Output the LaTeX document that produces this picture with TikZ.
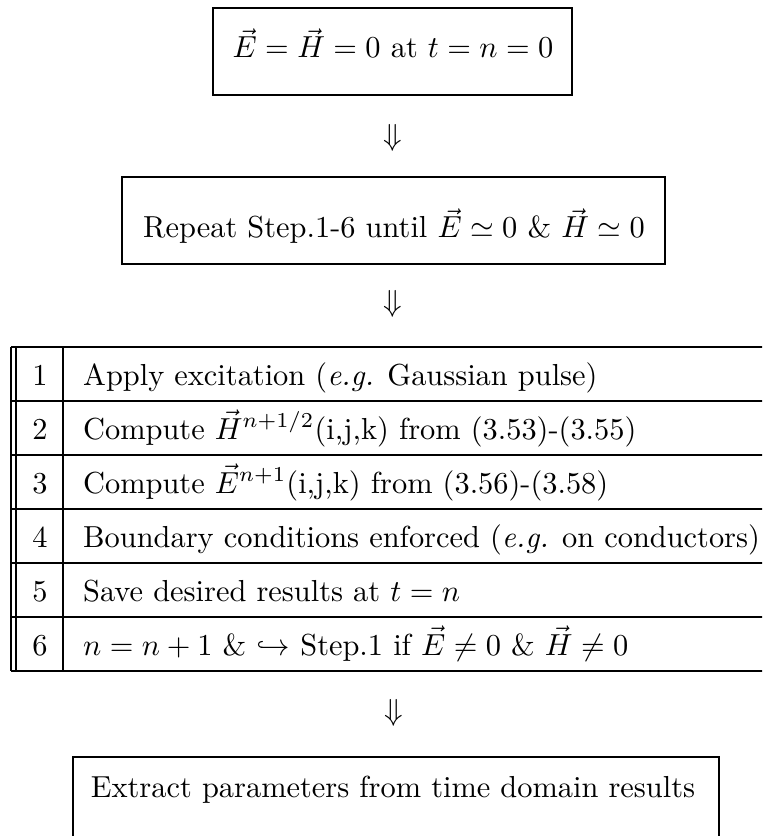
\documentclass[tikz,border=0pt]{standalone}
\usepackage{tikz}
\usetikzlibrary{positioning}

\begin{document}
\begin{tikzpicture}[x=0.329pt,y=-0.329pt,line width=0.8pt]
  \useasboundingbox (0,0) rectangle (762,836);
  \clip (0,0) rectangle (762,836);
  \tikzset{boxtext/.style={anchor=base,inner sep=0pt},
           steptext/.style={anchor=base west,inner sep=0pt},
           stepnum/.style={anchor=base,inner sep=0pt}}

  \draw (213,8) rectangle (572,95);
  \node[boxtext] (init) at (393,58) {$\vec{E}=\vec{H}=0$ at $t=n=0$};
  \node (down1) at (393,138) {$\Downarrow$};

  \draw (122,177) rectangle (665,264);
  \node[boxtext] (repeat) at (394,238) {Repeat Step.1-6 until $\vec{E}\simeq 0$ \& $\vec{H}\simeq 0$};
  \node (down2) at (393,304) {$\Downarrow$};

  \foreach \i in {0,...,6}{\draw (11,347+54*\i) -- (780,347+54*\i);}
  \draw (11,347) -- (11,671);
  \draw (16,347) -- (16,671);
  \draw (63,347) -- (63,671);
  \foreach \i/\b in {1/{Apply excitation (\emph{e.g.} Gaussian pulse)},
                     2/{Compute $\vec{H}^{n+1/2}$(i,j,k) from (3.53)-(3.55)},
                     3/{Compute $\vec{E}^{n+1}$(i,j,k) from (3.56)-(3.58)},
                     4/{Boundary conditions enforced (\emph{e.g.} on conductors)},
                     5/{Save desired results at $t=n$},
                     6/{$n=n+1$ \& $\hookrightarrow$ Step.1 if $\vec{E}\neq 0$ \& $\vec{H}\neq 0$}}{
    \node[stepnum] (num\i) at (40,331+54*\i) {\i};
    \node[steptext] (step\i) at (82,331+54*\i) {\b};}

  \node (down3) at (394,713) {$\Downarrow$};

  \draw (73,757) rectangle (719,846);
  \node[boxtext] (extract) at (393,797) {Extract parameters from time domain results};
\end{tikzpicture}
\end{document}
